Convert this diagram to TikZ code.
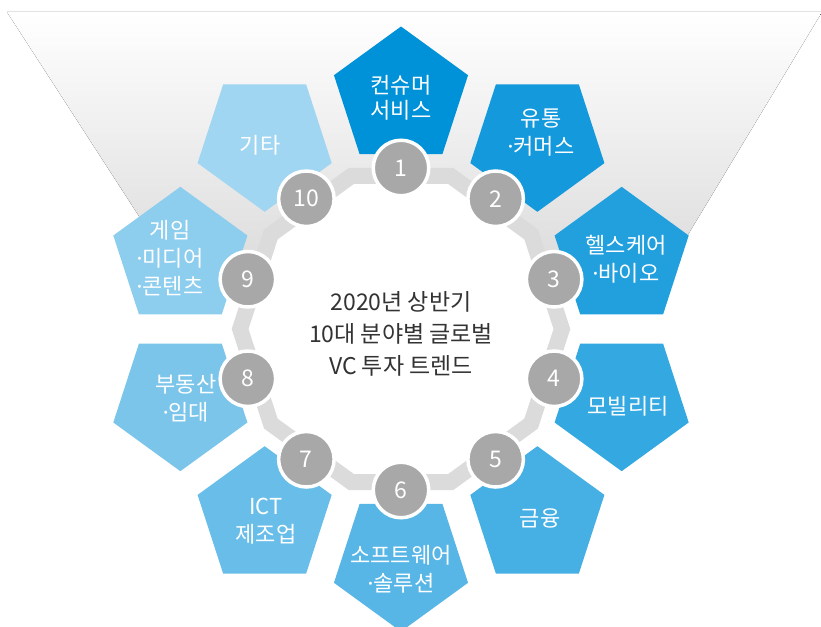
\documentclass[tikz,border=0pt]{standalone}
\usepackage{fontspec}
\newfontfamily\kr{Noto Sans CJK KR}
\newfontfamily\latf{Noto Sans}
\newcommand\mdt{{\latf ·}}
\definecolor{p1}{HTML}{0092D8}
\definecolor{p2}{HTML}{1499DC}
\definecolor{p3}{HTML}{22A0DE}
\definecolor{p4}{HTML}{33A8E1}
\definecolor{p5}{HTML}{46B0E4}
\definecolor{p6}{HTML}{57B6E6}
\definecolor{p7}{HTML}{69BEE9}
\definecolor{p8}{HTML}{7BC5EB}
\definecolor{p9}{HTML}{8DCDEE}
\definecolor{p10}{HTML}{A0D6F1}
\definecolor{bandgray}{HTML}{DBDBDB}
\definecolor{numgray}{HTML}{A8A8A8}
\definecolor{txtdark}{HTML}{333333}
\definecolor{fmid}{HTML}{E4E4E4}
\definecolor{fbot}{HTML}{D9D9D9}
\begin{document}
\begin{tikzpicture}[x=1pt,y=-1pt,
  ptext/.style={text=white, font=\kr\fontsize{22}{28}\selectfont, align=center, inner sep=0pt},
  numnode/.style={circle, fill=numgray, draw=white, line width=3.5pt, minimum size=55.5pt, inner sep=0pt, text=white, font=\kr\fontsize{23}{23}\selectfont},
  ctext/.style={text=txtdark, font=\kr\fontsize{23}{32}\selectfont, align=center, inner sep=0pt}]
\useasboundingbox (0,0) rectangle (821,626);
% funnel background
\fill[top color=white, middle color=fmid, bottom color=fbot] (7,12) -- (822,12) -- (653.5,292) -- (188,292) -- cycle;
% decagon band
\filldraw[fill=white, draw=bandgray, line width=16pt, line join=miter]
  plot[samples at={0,36,72,108,144,180,216,252,288,324}] ({401+160.9*cos(\x)},{329-160.9*sin(\x)}) -- cycle;
% pentagons
\foreach \k in {1,...,10}{
  \pgfmathsetmacro\th{90-36*(\k-1)}
  \pgfmathsetmacro\cx{401+232*cos(\th)}
  \pgfmathsetmacro\cy{329-232*sin(\th)}
  \fill[fill=p\k] plot[samples at={0,72,144,216,288}] ({\cx+70.5*cos(\th+\x)},{\cy-70.5*sin(\th+\x)}) -- cycle;
}
% number circles
\foreach \k in {1,...,10}{
  \pgfmathsetmacro\th{90-36*(\k-1)}
  \node[numnode] (n\k) at ({401+161*cos(\th)},{329-161*sin(\th)}) {\k};
}
% pentagon labels
\node[ptext, font=\kr\fontsize{22}{25}\selectfont] (t1) at (401,98) {컨슈머\\서비스};
\node[ptext] (t2) at (541,133) {유통\\\mdt 커머스};
\node[ptext] (t3) at (626,259) {헬스케어\\\mdt 바이오};
\node[ptext] (t4) at (628,406) {모빌리티};
\node[ptext] (t5) at (540,518) {금융};
\node[ptext] (t6) at (401,569) {소프트웨어\\\mdt 솔루션};
\node[ptext] (t7) at (266,521) {ICT\\제조업};
\node[ptext] (t8) at (186,398) {부동산\\\mdt 임대};
\node[ptext] (t9) at (170,258) {게임\\\mdt 미디어\\\mdt 콘텐츠};
\node[ptext] (t10) at (260,145) {기타};
% centre title
\node[ctext] (title) at (401,334) {2020년 상반기\\10대 분야별 글로벌\\VC 투자 트렌드};
\end{tikzpicture}
\end{document}
